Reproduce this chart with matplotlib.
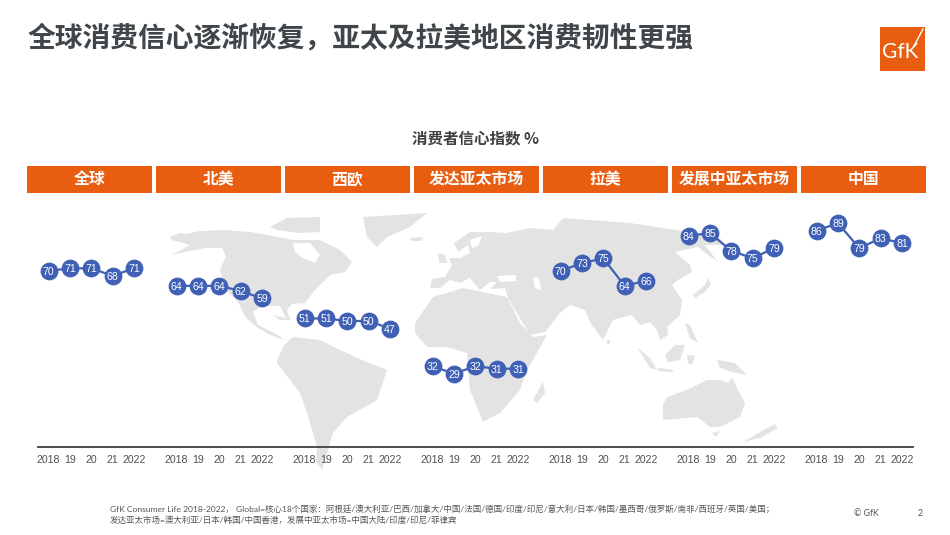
import matplotlib
matplotlib.use("Agg")
import matplotlib.pyplot as plt
from matplotlib.patches import Polygon, Rectangle

CJK = ['Noto Sans CJK SC', 'DejaVu Sans']
LAT = ['Lato', 'Noto Sans CJK SC', 'DejaVu Sans']

regions = ['全球', '北美', '西欧', '发达亚太市场', '拉美', '发展中亚太市场', '中国']
year_labels = ['2018', '19', '20', '21', '2022']
global_vals = [70, 71, 71, 68, 71]
north_america = [64, 64, 64, 62, 59]
west_europe = [51, 51, 50, 50, 47]
developed_apac = [32, 29, 32, 31, 31]
latin_america = [70, 73, 75, 64, 66]
developing_apac = [84, 85, 78, 75, 79]
china = [86, 89, 79, 83, 81]
series = [global_vals, north_america, west_europe, developed_apac,
          latin_america, developing_apac, china]

title = '全球消费信心逐渐恢复，亚太及拉美地区消费韧性更强'
subtitle = '消费者信心指数 %'
foot1 = 'GfK Consumer Life 2018-2022， Global=核心18个国家：阿根廷/澳大利亚/巴西/加拿大/中国/法国/德国/印度/印尼/意大利/日本/韩国/墨西哥/俄罗斯/南非/西班牙/英国/美国；'
foot2 = '发达亚太市场=澳大利亚/日本/韩国/中国香港，发展中亚太市场=中国大陆/印度/印尼/菲律宾'

# Background world map outline, in slide pixels (decorative underlay)
LAND = [
    [(170,237),(180,233),(186,234),(200,231),(225,230),(250,232),(268,235),(293,240),(320,240),(340,250),(352,262),(345,272),(330,275),(322,283),(315,290),(305,303),(292,304),(287,310),(290,320),(286,318),(280,306),(262,306),(253,312),(258,325),(268,330),(278,335),(284,340),(270,335),(258,328),(246,318),(238,302),(226,290),(220,270),(226,256),(222,248),(205,248),(185,252),(172,255),(190,245),(172,240)],
    [(270,227),(287,218),(320,217),(320,232),(300,233),(277,230)],
    [(363,217),(427,213),(410,227),(387,237),(377,247),(367,237)],
    [(277,360),(284,345),(293,337),(320,340),(340,350),(362,360),(387,370),(377,400),(347,417),(333,433),(328,450),(322,470),(316,462),(317,447),(307,413),(300,393),(277,363)],
    [(415,323),(433,297),(463,288),(507,297),(520,323),(533,337),(547,335),(527,370),(520,390),(500,413),(483,422),(470,390),(467,353),(447,347),(427,347),(415,333)],
    [(533,400),(543,382),(545,393),(537,403)],
    [(430,288),(432,279),(445,277),(452,265),(449,258),(460,258),(470,253),(468,245),(458,252),(454,243),(470,232),(490,232),(507,233),(530,228),(553,230),(563,218),(590,220),(630,223),(663,228),(690,232),(720,238),(724,245),(705,245),(718,262),(708,255),(698,247),(675,252),(690,265),(692,272),(678,280),(672,285),(682,300),(680,315),(667,327),(668,335),(660,340),(657,330),(650,322),(640,325),(632,315),(613,320),(603,340),(590,322),(585,310),(570,305),(560,313),(545,332),(530,335),(508,298),(505,288),(490,289),(497,282),(490,282),(480,290),(470,278),(460,283),(450,280),(440,288)],
    [(438,253),(445,255),(447,263),(439,263)],
    [(410,238),(423,237),(421,241),(412,241)],
    [(693,295),(705,285),(708,278),(711,284),(705,292),(695,298)],
    [(685,323),(690,325),(698,343),(690,338)],
    [(665,355),(675,345),(685,345),(680,360),(668,362)],
    [(637,347),(650,358),(657,370),(650,368)],
    [(658,368),(673,370),(673,372),(658,371)],
    [(687,355),(695,356),(692,365),(688,363)],
    [(717,360),(735,363),(747,375),(732,372),(720,368)],
    [(663,405),(667,397),(687,390),(707,380),(720,380),(728,383),(732,378),(745,403),(740,417),(720,427),(710,427),(697,417),(663,420)],
    [(712,433),(720,431),(716,437)],
    [(743,442),(760,432),(775,424),(778,428),(760,438)],
    [(607,340),(610,340),(610,344),(607,344)],
    [(273,315),(293,320),(280,320)],
]
WATER = [
    [(293,243),(310,243),(320,255),(315,263),(303,258),(295,252)],
    [(497,276),(516,275),(516,281),(500,282)],
    [(533,277),(539,278),(541,290),(535,288)],
    [(470,240),(482,236),(478,246),(472,248)],
]

fig = plt.figure(figsize=(9.5, 5.35), dpi=100)
fig.patch.set_facecolor('white')

bg = fig.add_axes([0, 0, 1, 1], zorder=0)
bg.set_xlim(0, 950)
bg.set_ylim(535, 0)
bg.axis('off')
for shape in LAND:
    bg.add_patch(Polygon(shape, closed=True, fc='#E3E3E3', ec='none'))
for shape in WATER:
    bg.add_patch(Polygon(shape, closed=True, fc='white', ec='none'))

ORANGE = '#E85D0F'
INK = '#3F4548'
bg.text(28, 38, title, family=CJK, fontsize=20, fontweight='bold', color=INK, va='center', ha='left')
bg.text(475, 138, subtitle, family=CJK, fontsize=11.2, fontweight='bold', color='#404040', va='center', ha='center')

box_left, box_pitch, box_w = 27, 129, 124.5
for i, name in enumerate(regions):
    x = box_left + i * box_pitch
    bg.add_patch(Rectangle((x, 166), box_w, 27, fc=ORANGE, ec='none'))
    bg.text(x + box_w / 2, 179, name, family=CJK, fontsize=11.4, fontweight='bold',
            color='white', va='center', ha='center')

# Logo
bg.add_patch(Rectangle((880, 27), 45, 44, fc=ORANGE, ec='none'))
bg.text(900, 52, 'GfK', family=['Lato'], fontsize=15, color='white', va='center', ha='center')
bg.plot([914, 923], [46, 29], color='white', lw=1.0)

bg.text(110, 509, foot1, family=LAT, fontsize=6.1, color='#555555', va='center', ha='left')
bg.text(110, 520, foot2, family=LAT, fontsize=6.1, color='#555555', va='center', ha='left')
bg.text(866, 514, '© GfK', family=['Lato'], fontsize=6.3, color='#555555', va='center', ha='center')
bg.text(920, 514, '2', family=['Lato'], fontsize=6.3, color='#555555', va='center', ha='center')

# Chart: one value axis, one slot between groups
W, H = 950, 535
ax_l, ax_r, ax_t, ax_b = 38, 912.6, 195.5, 446.5
ax = fig.add_axes([ax_l / W, 1 - ax_b / H, (ax_r - ax_l) / W, (ax_b - ax_t) / H], zorder=2)
ax.patch.set_alpha(0)
ax.set_xlim(-0.5, 40.5)
ax.set_ylim(0, 100)
BLUE = '#3F60B5'
ticks, labels = [], []
for g, vals in enumerate(series):
    xs = [g * 6 + k for k in range(len(vals))]
    ax.plot(xs, vals, color=BLUE, lw=1.6, marker='o', ms=12.8, mec='none', mfc=BLUE, clip_on=False)
    for x, v in zip(xs, vals):
        ax.text(x, v, str(v), family=['Liberation Sans'], fontsize=7.6, color='white',
                ha='center', va='center_baseline')
    ticks += xs
    labels += year_labels
ax.set_xticks(ticks)
ax.set_xticklabels(labels, family=['Liberation Sans'], fontsize=7.6, color='#505050')
ax.tick_params(axis='x', length=0, pad=6)
ax.set_yticks([])
for side in ('top', 'left', 'right'):
    ax.spines[side].set_visible(False)
ax.spines['bottom'].set_color('#404040')
ax.spines['bottom'].set_linewidth(1.3)

fig.savefig('out.png', dpi=100)
